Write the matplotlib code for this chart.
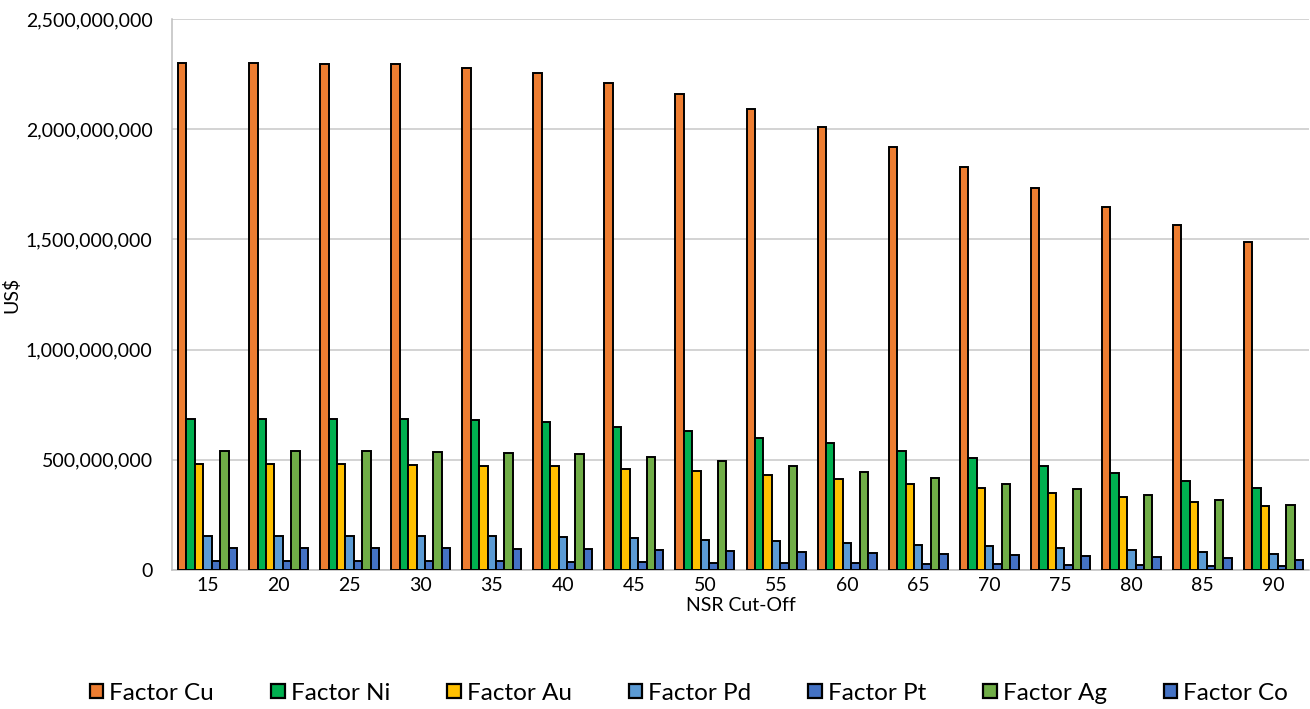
import matplotlib
matplotlib.use("Agg")
import matplotlib.pyplot as plt
import numpy as np
from matplotlib.ticker import FuncFormatter

categories = ["15", "20", "25", "30", "35", "40", "45", "50",
              "55", "60", "65", "70", "75", "80", "85", "90"]

factor_cu = [2300e6, 2300e6, 2298e6, 2294e6, 2277e6, 2253e6, 2211e6, 2159e6,
             2090e6, 2010e6, 1918e6, 1827e6, 1735e6, 1649e6, 1565e6, 1486e6]
factor_ni = [686e6, 686e6, 685e6, 684e6, 680e6, 671e6, 651e6, 629e6,
             601e6, 574e6, 542e6, 508e6, 473e6, 438e6, 406e6, 374e6]
factor_au = [480e6, 480e6, 479e6, 478e6, 474e6, 470e6, 459e6, 447e6,
             429e6, 412e6, 392e6, 371e6, 349e6, 329e6, 309e6, 289e6]
factor_pd = [156e6, 156e6, 156e6, 155e6, 154e6, 151e6, 145e6, 138e6,
             130e6, 123e6, 115e6, 108e6, 99e6, 89e6, 80e6, 74e6]
factor_pt = [40e6, 40e6, 40e6, 39e6, 40e6, 38e6, 37e6, 33e6,
             32e6, 30e6, 28e6, 27e6, 24e6, 23e6, 20e6, 18e6]
factor_ag = [538e6, 538e6, 538e6, 536e6, 533e6, 526e6, 511e6, 494e6,
             470e6, 444e6, 418e6, 392e6, 367e6, 342e6, 318e6, 294e6]
factor_co = [99e6, 99e6, 99e6, 99e6, 97e6, 94e6, 91e6, 86e6,
             82e6, 79e6, 73e6, 67e6, 64e6, 58e6, 53e6, 47e6]

series_names = ["Factor Cu", "Factor Ni", "Factor Au", "Factor Pd",
                "Factor Pt", "Factor Ag", "Factor Co"]
series_values = [factor_cu, factor_ni, factor_au, factor_pd,
                 factor_pt, factor_ag, factor_co]
colors = ["#ED7D31", "#00B050", "#FFC000", "#5B9BD5",
          "#4472C4", "#70AD47", "#4472C4"]

plt.rcParams['font.family'] = ['Lato', 'DejaVu Sans']

fig = plt.figure(figsize=(13.10, 7.09), dpi=100)
ax = fig.add_axes([172/1310, 1 - 570/709, (1309 - 172)/1310, (570 - 19)/709])

x = np.arange(len(categories))
n = len(series_names)
group_w = 0.83
bw = group_w / n
for i, (name, vals, c) in enumerate(zip(series_names, series_values, colors)):
    offs = -group_w/2 + bw*(i + 0.5)
    ax.bar(x + offs, vals, width=bw, color=c, edgecolor="black",
           linewidth=1.4, label=name, zorder=3)

ax.set_xlim(-0.5, len(categories) - 0.5)
ax.set_ylim(0, 2.5e9)
ax.set_yticks(np.arange(0, 2.5e9 + 1, 5e8))
ax.yaxis.set_major_formatter(FuncFormatter(lambda v, p: f"{int(v):,}"))
ax.set_xticks(x)
ax.set_xticklabels(categories)
ax.grid(axis="y", color="#C8C8C8", linewidth=1.1, zorder=0)
ax.set_axisbelow(True)
for s in ["top", "right"]:
    ax.spines[s].set_visible(False)
ax.spines["left"].set_color("#BFBFBF")
ax.spines["bottom"].set_color("#BFBFBF")
ax.spines["left"].set_linewidth(1.1)
ax.spines["bottom"].set_linewidth(1.1)
ax.tick_params(axis="both", length=0, labelsize=14, colors="#000000")
ax.tick_params(axis="x", pad=5)
ax.tick_params(axis="y", pad=14)

ax.set_xlabel("NSR Cut-Off", fontsize=14, labelpad=2)
ax.set_ylabel("US$", fontsize=14)
ax.yaxis.set_label_coords(-152/1137, 0.5)

leg = fig.legend(loc="center", bbox_to_anchor=(689/1310, 1 - 693/709), ncol=7,
                 frameon=False, fontsize=17.5, handlelength=0.55, handleheight=0.55,
                 handletextpad=0.25, columnspacing=2.35)
for h in leg.legend_handles:
    h.set_linewidth(1.6)

fig.savefig("out.png", dpi=100)
